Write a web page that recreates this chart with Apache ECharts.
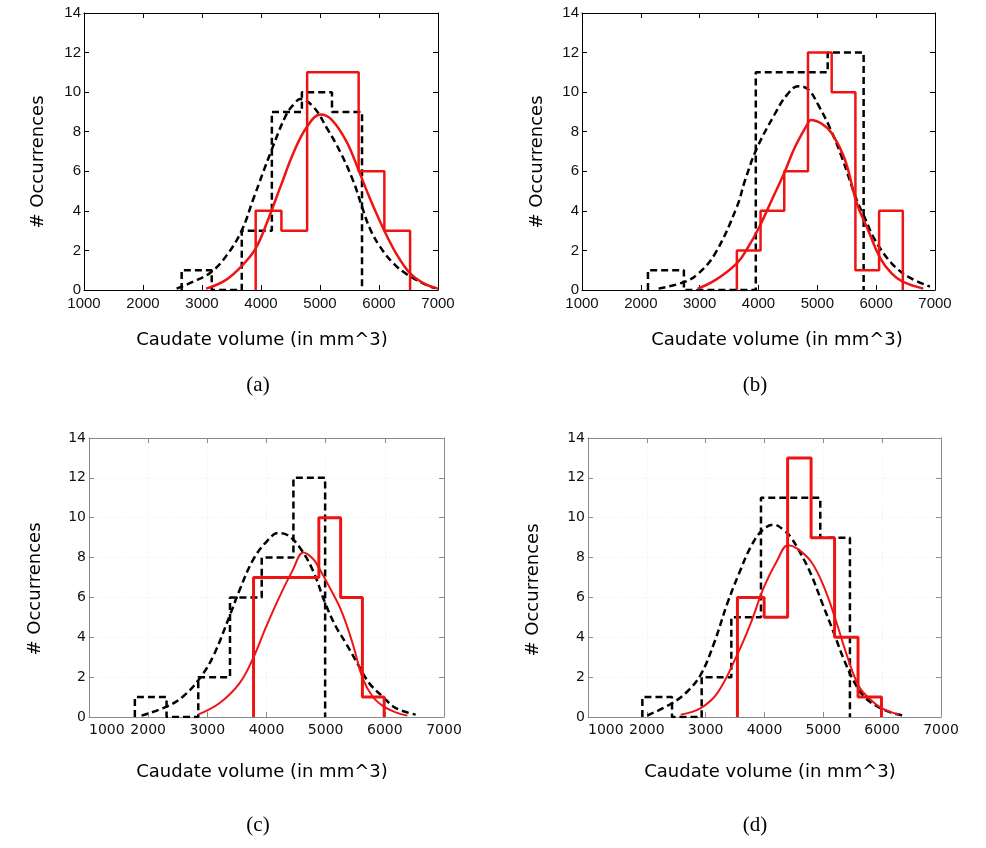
<!DOCTYPE html>
<html>
<head>
<meta charset="utf-8">
<script src="https://cdn.jsdelivr.net/npm/echarts@6/dist/echarts.min.js"></script>
<style>
html,body{margin:0;padding:0;background:#fff;}
#chart{width:986px;height:848px;}
</style>
</head>
<body>
<div id="chart"></div>
<script>
// ---------- data ----------
const panelLabels = ['(a)', '(b)', '(c)', '(d)'];
const xAxisTitle = 'Caudate volume (in mm^3)';
const yAxisTitle = '# Occurrences';

// (a)
const aBlackEdges  = [2655, 3165, 3674, 4184, 4693, 5203, 5712];
const aBlackCounts = [1, 0, 3, 9, 10, 9];
const aRedEdges    = [3910, 4346, 4782, 5218, 5655, 6091, 6527];
const aRedCounts   = [4, 3, 11, 11, 6, 3];
const aBlackFit = [[2570,0.07],[2853,0.42],[3153,0.9],[3418,1.75],[3672,3.0],[3870,4.6],[4170,7.0],[4435,8.9],[4576,9.45],[4660,9.65],[4887,9.26],[5113,8.2],[5339,7.0],[5565,5.5],[5712,4.2],[5847,3.1],[6017,2.19],[6243,1.35],[6469,0.8],[6808,0.25],[6950,0.1]];
const aRedFit   = [[3070,0.07],[3400,0.5],[3700,1.3],[3910,2.1],[4100,3.4],[4340,5.3],[4560,7.0],[4780,8.25],[5010,8.87],[5200,8.6],[5450,7.5],[5655,6.05],[5850,4.6],[6090,3.0],[6300,1.8],[6525,0.85],[6750,0.35],[7000,0.07]];

// (b)
const bBlackEdges  = [2121, 2732, 3343, 3954, 4565, 5176, 5787];
const bBlackCounts = [1, 0, 0, 11, 11, 12];
const bRedEdges    = [3632, 4035, 4438, 4841, 5244, 5647, 6050, 6453];
const bRedCounts   = [2, 4, 6, 12, 10, 1, 4];
const bBlackFit = [[2302,0.07],[2754,0.42],[2981,0.84],[3264,1.85],[3632,4.2],[3773,5.56],[3971,7.15],[4282,8.92],[4480,9.85],[4678,10.3],[4848,10.13],[5018,9.34],[5205,8.25],[5414,6.73],[5669,4.55],[5799,3.7],[5980,2.53],[6263,1.35],[6546,0.67],[6914,0.17]];
const bRedFit   = [[2969,0.07],[3264,0.5],[3632,1.35],[3830,2.2],[4016,3.2],[4226,4.55],[4435,5.9],[4622,7.24],[4831,8.38],[4888,8.59],[5075,8.4],[5250,7.9],[5471,6.57],[5669,4.4],[5867,3.0],[6071,1.6],[6263,0.84],[6450,0.42],[6801,0.07]];

// (c)
const cBlackEdges  = [1775, 2311, 2847, 3383, 3919, 4455, 4991];
const cBlackCounts = [1, 0, 2, 6, 8, 12];
const cRedEdges    = [3781, 4149, 4517, 4885, 5253, 5621, 5989];
const cRedCounts   = [7, 7, 7, 10, 6, 1];
const cBlackFit = [[1888,0.07],[2320,0.53],[2590,1.03],[2854,1.87],[3096,3.03],[3393,5.2],[3545,6.37],[3770,7.87],[3994,8.78],[4202,9.23],[4360,9.12],[4556,8.53],[4781,7.37],[4994,5.7],[5174,4.53],[5343,3.7],[5567,2.53],[5736,1.7],[5961,1.03],[6185,0.45],[6522,0.12]];
const cRedFit   = [[2843,0.12],[3208,0.7],[3545,1.7],[3781,3.0],[3994,4.53],[4219,6.03],[4444,7.37],[4624,8.25],[4781,7.95],[4882,7.5],[5062,6.53],[5258,5.37],[5455,3.7],[5624,1.95],[5792,1.03],[5978,0.53],[6185,0.23],[6382,0.07]];

// (d)
const dBlackEdges  = [1924, 2428, 2932, 3436, 3940, 4444, 4948, 5452];
const dBlackCounts = [1, 0, 2, 5, 11, 11, 9];
const dRedEdges    = [3540, 3994, 4393, 4792, 5191, 5590, 5989];
const dRedCounts   = [6, 5, 13, 9, 4, 1];
const dBlackFit = [[2008,0.07],[2433,0.7],[2688,1.28],[2915,2.12],[3142,3.7],[3368,5.7],[3567,7.2],[3765,8.53],[3963,9.37],[4161,9.65],[4331,9.37],[4445,9.03],[4615,8.2],[4785,7.2],[4983,5.7],[5181,4.2],[5351,2.87],[5521,1.78],[5691,1.03],[5918,0.53],[6144,0.23],[6371,0.07]];
const dRedFit   = [[2575,0.12],[2915,0.45],[3198,1.2],[3521,3.03],[3765,4.7],[3992,6.53],[4218,7.87],[4399,8.62],[4558,8.45],[4796,7.78],[5011,6.53],[5210,4.87],[5408,3.03],[5606,1.53],[5805,0.87],[5992,0.45],[6286,0.12]];

// ---------- build ----------
function stairs(edges, counts) {
  const pts = [[edges[0], 0]];
  for (let i = 0; i < counts.length; i++) {
    pts.push([edges[i], counts[i]]);
    pts.push([edges[i + 1], counts[i]]);
  }
  pts.push([edges[edges.length - 1], 0]);
  return pts;
}

const panels = [
  {be: aBlackEdges, bc: aBlackCounts, re: aRedEdges, rc: aRedCounts, bf: aBlackFit, rf: aRedFit,
   grid: {left: 84, top: 13, width: 354, height: 277}, style: 'matlab',
   xName: [262, 340], yName: [38, 162], label: [258, 385]},
  {be: bBlackEdges, bc: bBlackCounts, re: bRedEdges, rc: bRedCounts, bf: bBlackFit, rf: bRedFit,
   grid: {left: 582, top: 13, width: 353, height: 277}, style: 'matlab',
   xName: [777, 340], yName: [537, 162], label: [755, 385]},
  {be: cBlackEdges, bc: cBlackCounts, re: cRedEdges, rc: cRedCounts, bf: cBlackFit, rf: cRedFit,
   grid: {left: 89, top: 438, width: 355, height: 279}, style: 'gray',
   xName: [262, 772], yName: [35, 589], label: [258, 825]},
  {be: dBlackEdges, bc: dBlackCounts, re: dRedEdges, rc: dRedCounts, bf: dBlackFit, rf: dRedFit,
   grid: {left: 588, top: 438, width: 353, height: 279}, style: 'gray',
   xName: [770, 772], yName: [533, 590], label: [755, 825]}
];

const RED = '#ee1414';
const grids = [], xAxes = [], yAxes = [], series = [], graphics = [];
const plain = v => String(v);

panels.forEach((p, i) => {
  const matlab = p.style === 'matlab';
  const axisColor = matlab ? '#000' : '#8a8a8a';
  const labelFont = matlab ? 'Liberation Sans, Arial, sans-serif' : 'DejaVu Sans, Verdana, sans-serif';
  const labelSize = matlab ? 15 : 14;
  grids.push(Object.assign({containLabel: false}, p.grid));
  const common = {
    gridIndex: i, type: 'value',
    axisLine: {show: true, onZero: false, lineStyle: {color: axisColor, width: 1}},
    axisTick: {show: true, inside: true, length: 5, lineStyle: {color: axisColor}},
  };
  const splitLine = matlab ? {show: false} :
    {show: true, lineStyle: {color: '#ededed', type: [1, 2], width: 1}};
  const xLabel = {show: true, showMinLabel: true, showMaxLabel: true, hideOverlap: false,
                  color: '#111', fontFamily: labelFont, fontSize: labelSize, margin: 6,
                  formatter: plain};
  if (!matlab) xLabel.alignMinLabel = 'left';
  xAxes.push(Object.assign({}, common, {
    position: 'bottom', min: 1000, max: 7000, interval: 1000,
    axisLabel: xLabel,
    splitLine: splitLine
  }));
  xAxes.push(Object.assign({}, common, {
    position: 'top', min: 1000, max: 7000, interval: 1000,
    axisLabel: {show: false}, splitLine: {show: false}
  }));
  yAxes.push(Object.assign({}, common, {
    position: 'left', min: 0, max: 14, interval: 2,
    axisLabel: {show: true, showMinLabel: true, showMaxLabel: true, hideOverlap: false,
                color: '#111', fontFamily: labelFont, fontSize: labelSize, margin: 3,
                formatter: plain},
    splitLine: splitLine
  }));
  yAxes.push(Object.assign({}, common, {
    position: 'right', min: 0, max: 14, interval: 2,
    axisLabel: {show: false}, splitLine: {show: false}
  }));
  const xi = i * 2, yi = i * 2;
  const lw = 2.5;
  series.push({
    type: 'line', xAxisIndex: xi, yAxisIndex: yi, data: stairs(p.be, p.bc),
    symbol: 'none', lineStyle: {color: '#000', width: lw, type: [7, 4]}, z: 2, silent: true
  });
  series.push({
    type: 'line', xAxisIndex: xi, yAxisIndex: yi, data: p.bf, smooth: 0.4,
    symbol: 'none', lineStyle: {color: '#000', width: lw, type: [7, 4]}, z: 2, silent: true
  });
  series.push({
    type: 'line', xAxisIndex: xi, yAxisIndex: yi, data: stairs(p.re, p.rc),
    symbol: 'none', lineStyle: {color: RED, width: matlab ? 2.5 : 3}, z: 3, silent: true
  });
  series.push({
    type: 'line', xAxisIndex: xi, yAxisIndex: yi, data: p.rf, smooth: 0.4,
    symbol: 'none', lineStyle: {color: RED, width: matlab ? 2.5 : 2}, z: 3, silent: true
  });
  graphics.push({
    type: 'text', x: p.xName[0], y: p.xName[1],
    style: {text: xAxisTitle, fill: '#000', font: '18px "DejaVu Sans", Verdana, sans-serif',
            textAlign: 'center', textVerticalAlign: 'middle'}
  });
  graphics.push({
    type: 'text', x: p.yName[0], y: p.yName[1], rotation: Math.PI / 2,
    style: {text: yAxisTitle, fill: '#000', font: '18px "DejaVu Sans", Verdana, sans-serif',
            textAlign: 'center', textVerticalAlign: 'middle'}
  });
  graphics.push({
    type: 'text', x: p.label[0], y: p.label[1],
    style: {text: panelLabels[i], fill: '#000', font: '21px "Liberation Serif", "Times New Roman", serif',
            textAlign: 'center', textVerticalAlign: 'middle'}
  });
});

const chart = echarts.init(document.getElementById('chart'), null, {renderer: 'canvas'});
chart.setOption({
  animation: false,
  backgroundColor: '#fff',
  grid: grids,
  xAxis: xAxes,
  yAxis: yAxes,
  series: series,
  graphic: graphics
});
</script>
</body>
</html>
